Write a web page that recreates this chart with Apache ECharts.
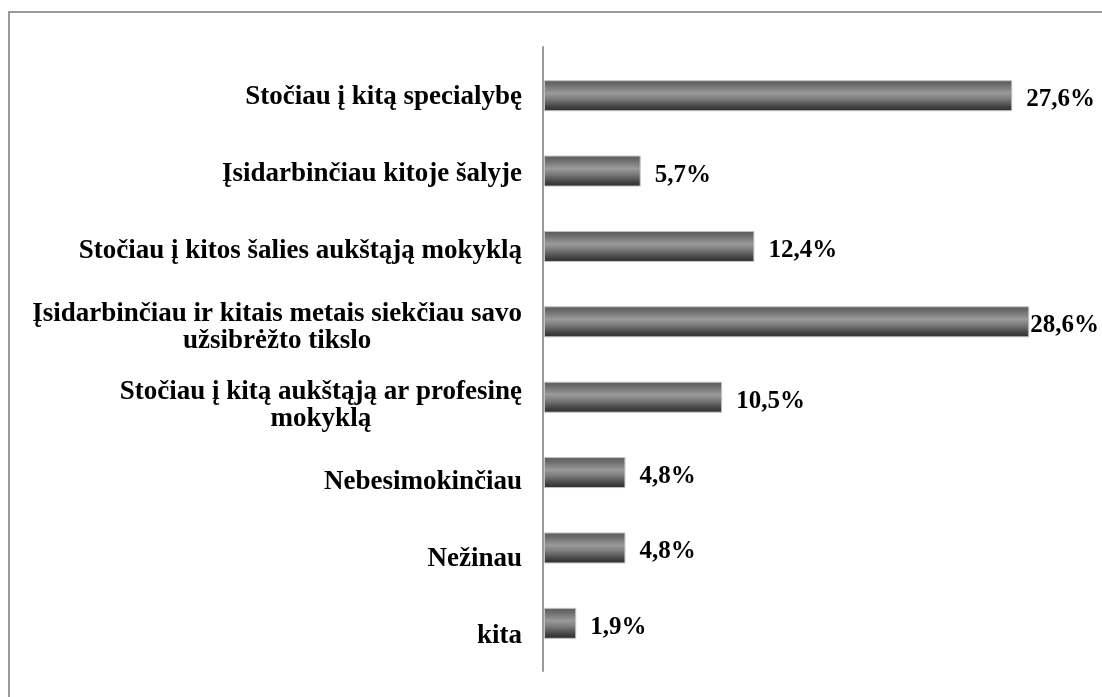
<!DOCTYPE html>
<html>
<head>
<meta charset="utf-8">
<script src="https://cdn.jsdelivr.net/npm/echarts@6/dist/echarts.min.js"></script>
<style>
    html, body { margin: 0; padding: 0; background: #fff; overflow: hidden; }
    .frame {
        position: absolute;
        left: 8px;
        top: 11px;
        width: 1300px;
        height: 900px;
        border-top: 2px solid #9a9a9a;
        border-left: 2px solid #9a9a9a;
    }
    #main { position: absolute; left: 0; top: 0; width: 1102px; height: 697px; }
</style>
</head>
<body>
<div class="frame"></div>
<div id="main"></div>
<script>
// duomenys (iš viršaus į apačią)
var categories = [
    'Stočiau į kitą specialybę',
    'Įsidarbinčiau kitoje šalyje',
    'Stočiau į kitos šalies aukštąją mokyklą',
    'Įsidarbinčiau ir kitais metais siekčiau savo\nužsibrėžto tikslo',
    'Stočiau į kitą aukštąją ar profesinę\nmokyklą',
    'Nebesimokinčiau',
    'Nežinau',
    'kita'
]
var values = [27.6, 5.7, 12.4, 28.6, 10.5, 4.8, 4.8, 1.9]

var font = '"Liberation Serif", "Times New Roman", serif'
var maxVal = Math.max.apply(null, values)

var barData = values.map(function (v) {
    // didžiausios reikšmės etiketė prigludusi prie stulpelio
    return v === maxVal ? { value: v, label: { distance: 1 } } : v
})

var myChart = echarts.init(document.getElementById('main'), null, { renderer: 'canvas' })

var option = {
    animation: false,
    grid: [
        // stulpeliai
        { left: 544, right: 49, top: 58, bottom: 36 },
        // kategorijų pavadinimai
        { left: 543, right: 49, top: 58, bottom: 22 },
        // ašies linija
        { left: 543, right: 49, top: 47, bottom: 26 }
    ],
    xAxis: [
        { gridIndex: 0, type: 'value', min: 0, max: 30, show: false },
        { gridIndex: 1, type: 'value', min: 0, max: 30, show: false },
        { gridIndex: 2, type: 'value', min: 0, max: 30, show: false }
    ],
    yAxis: [
        {
            gridIndex: 0,
            type: 'category',
            inverse: true,
            data: categories,
            axisLine: { show: false },
            axisTick: { show: false },
            axisLabel: { show: false }
        },
        {
            gridIndex: 1,
            type: 'category',
            inverse: true,
            data: categories,
            axisLine: { show: false },
            axisTick: { show: false },
            axisLabel: {
                margin: 21,
                color: '#000',
                fontFamily: font,
                fontWeight: 'bold',
                fontSize: 27,
                lineHeight: 27,
                formatter: function (val) {
                    if (val.indexOf('\n') < 0) return val
                    return val.split('\n').map(function (s) {
                        return '{c|' + s + '}'
                    }).join('\n')
                },
                rich: {
                    c: {
                        align: 'center',
                        color: '#000',
                        fontFamily: font,
                        fontWeight: 'bold',
                        fontSize: 27,
                        lineHeight: 27
                    }
                }
            }
        },
        {
            gridIndex: 2,
            type: 'category',
            data: [''],
            axisLine: { show: true, lineStyle: { color: '#9a9a9a', width: 2 } },
            axisTick: { show: false },
            axisLabel: { show: false }
        }
    ],
    series: [
        {
            type: 'bar',
            xAxisIndex: 0,
            yAxisIndex: 0,
            barWidth: 31,
            data: barData,
            itemStyle: {
                borderColor: '#c4c4c4',
                borderWidth: 1,
                color: new echarts.graphic.LinearGradient(0, 0, 0, 1, [
                    { offset: 0, color: '#5a5a5a' },
                    { offset: 0.15, color: '#6c6c6c' },
                    { offset: 0.42, color: '#9a9a9a' },
                    { offset: 0.6, color: '#7c7c7c' },
                    { offset: 0.85, color: '#444444' },
                    { offset: 1, color: '#2a2a2a' }
                ])
            },
            label: {
                show: true,
                position: 'right',
                distance: 14,
                offset: [0, 4],
                color: '#000',
                fontFamily: font,
                fontWeight: 'bold',
                fontSize: 25,
                formatter: function (p) {
                    return String(p.value).replace('.', ',') + '%'
                }
            }
        }
    ]
}

myChart.setOption(option)

window.addEventListener('resize', function () {
    myChart.resize()
})
</script>
</body>
</html>
